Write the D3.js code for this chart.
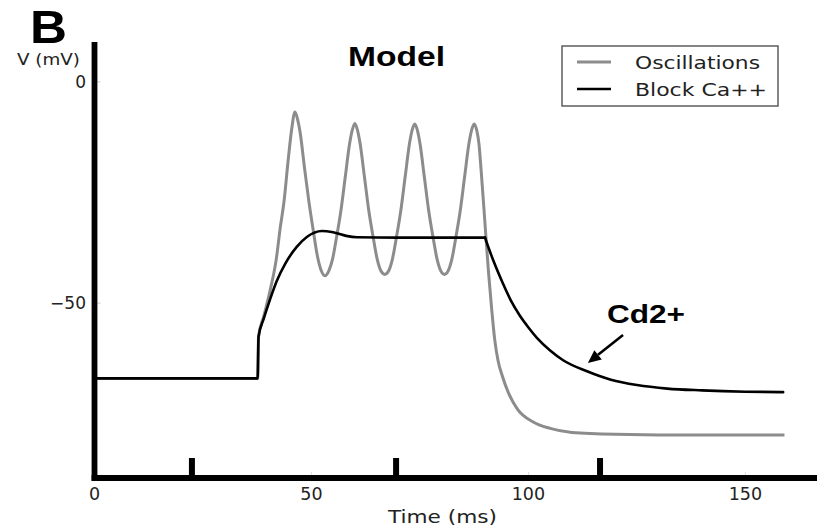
<!DOCTYPE html>
<html>
<head>
<meta charset="utf-8">
<script src="https://cdn.jsdelivr.net/npm/d3@7"></script>
<style>
  html, body { margin: 0; padding: 0; background: #fff; }
  svg { display: block; }
</style>
</head>
<body>
<svg id="chart" width="817" height="526"></svg>
<script>
// ---- data ----
const xTickValues = [0, 50, 100, 150];
const xTickLabels = ["0", "50", "100", "150"];
const yTickValues = [0, -50];
const yTickLabels = ["0", "\u221250"];
const stimulusMarks = [22.45, 69.5, 116.5];

const seriesNames = ["Oscillations", "Block Ca++"];

const oscTime = [0,37.6,37.8,39,40.5,41.9,42.8,43.7,44.6,45.4,46.2,46.8,47.4,48.4,49.4,50.4,51.4,52.2,53.1,
  54.0,54.8,55.8,56.8,57.8,58.8,59.4,60.0,60.6,61.2,62.2,63.2,64.2,65.2,66.0,66.9,
  67.8,68.6,69.6,70.6,71.6,72.6,73.2,73.8,74.4,75.0,76.0,77.0,78.0,79.0,79.8,80.65,
  81.5,82.3,83.3,84.3,85.3,86.3,86.9,87.5,88.1,88.6,89.1,89.7,90.2,90.8,91.5,92.2,93,94,95.5,97.5,101,105,110,120,140,159];
const oscV = [-67,-67,-57.6,-53,-47,-40,-33,-26.8,-18,-11,-6.8,-8.5,-11.5,-19.5,-27,-33.5,-39.5,-42.5,-43.8,
  -42.7,-40.3,-35,-29,-21.4,-13.9,-10.9,-9.4,-10.9,-13.9,-21.4,-29,-35,-40.3,-42.7,-43.5,
  -42.7,-40.3,-35,-29,-21.4,-13.9,-10.9,-9.5,-10.9,-13.9,-21.4,-29,-35,-40.3,-42.7,-43.5,
  -42.7,-40.3,-35,-29,-21.4,-13.9,-10.9,-9.5,-11,-14,-20,-28,-35,-43,-51,-58,-63,-66.5,-70.5,-74,-76.8,-78.3,-79.2,-79.6,-79.8,-79.8];

const blockTime = [0,37.6,37.8,39,40.4,42,44,46.6,49,52.4,55,58,60.5,70,80,90,
  91,92,94.1,96,98,100,102,105,108,113.5,119,125,132,140,150,158.7];
const blockV = [-67,-67,-57.6,-53.5,-49.3,-45,-41,-37.3,-35,-33.7,-34,-34.8,-35.1,-35.2,-35.2,-35.2,
  -38,-40.6,-45.5,-49.5,-52.8,-55.5,-57.9,-60.7,-62.9,-65.4,-67.3,-68.5,-69.3,-69.7,-70,-70.1];
const blockReleaseTime = 90;   // end of the current step (corner in the trace)

// ---- layout ----
const svg = d3.select("#chart");
const x = d3.scaleLinear().domain([0, 166.5]).range([94.5, 817]);
const y = d3.scaleLinear().domain([-89.5, 9]).range([478, 42]);

const grayColor = "#8c8c8c";
const darkColor = "#000";

const line = d3.line().x(d => x(d[0])).y(d => y(d[1])).curve(d3.curveMonotoneX);
const oscData = oscTime.map((t, i) => [t, oscV[i]]);
const blockData = blockTime.map((t, i) => [t, blockV[i]]);

svg.append("path").datum(oscData).attr("d", line)
  .attr("fill", "none").attr("stroke", grayColor).attr("stroke-width", 3);
[blockData.filter(d => d[0] <= blockReleaseTime), blockData.filter(d => d[0] >= blockReleaseTime)]
  .forEach(seg => {
    svg.append("path").datum(seg).attr("d", line)
      .attr("fill", "none").attr("stroke", darkColor).attr("stroke-width", 2.6)
      .attr("stroke-linejoin", "round").attr("stroke-linecap", "round");
  });

// faint ticks
svg.append("g").selectAll("line").data(xTickValues).join("line")
  .attr("x1", d => x(d)).attr("x2", d => x(d))
  .attr("y1", y(-89.5) - 3).attr("y2", y(-89.5) - 6)
  .attr("stroke", "#ddd").attr("stroke-width", 1);
svg.append("g").selectAll("line").data(yTickValues).join("line")
  .attr("x1", x(0) + 3).attr("x2", x(0) + 6)
  .attr("y1", d => y(d)).attr("y2", d => y(d))
  .attr("stroke", "#ccc").attr("stroke-width", 1);

// axes (thick)
svg.append("line").attr("x1", x(0)).attr("x2", x(0))
  .attr("y1", y(9)).attr("y2", y(-89.5) + 2.8)
  .attr("stroke", "#000").attr("stroke-width", 5.8);
svg.append("line").attr("x1", x(0) - 2.9).attr("x2", 817)
  .attr("y1", y(-89.5)).attr("y2", y(-89.5))
  .attr("stroke", "#000").attr("stroke-width", 5.8);

// stimulus marks
svg.append("g").selectAll("line").data(stimulusMarks).join("line")
  .attr("x1", d => x(d)).attr("x2", d => x(d))
  .attr("y1", 458).attr("y2", y(-89.5))
  .attr("stroke", "#000").attr("stroke-width", 6);

// tick labels
const font = "'DejaVu Sans', sans-serif";
svg.append("g").selectAll("text").data(xTickValues).join("text")
  .attr("x", d => x(d)).attr("y", 500)
  .attr("text-anchor", "middle").attr("font-family", font).attr("font-size", 17.5)
  .attr("fill", "#222")
  .text((d, i) => xTickLabels[i]);
svg.append("g").selectAll("text").data(yTickValues).join("text")
  .attr("x", 86).attr("y", d => y(d) + 6)
  .attr("text-anchor", "end").attr("font-family", font).attr("font-size", 17)
  .attr("fill", "#222")
  .text((d, i) => yTickLabels[i]);

// axis titles
svg.append("text").attr("x", 388).attr("y", 523)
  .attr("font-family", font).attr("font-size", 18)
  .attr("textLength", 109).attr("lengthAdjust", "spacingAndGlyphs")
  .attr("fill", "#222").text("Time (ms)");
svg.append("text").attr("x", 17).attr("y", 65)
  .attr("font-family", font).attr("font-size", 16.5)
  .attr("textLength", 63).attr("lengthAdjust", "spacingAndGlyphs")
  .attr("fill", "#222").text("V (mV)");

// bold labels
const bold = "'Liberation Sans', Arial, sans-serif";
svg.append("text").attr("x", 30).attr("y", 43)
  .attr("font-family", bold).attr("font-weight", "bold").attr("font-size", 46)
  .attr("textLength", 37).attr("lengthAdjust", "spacingAndGlyphs")
  .text("B");
svg.append("text").attr("x", 348).attr("y", 66)
  .attr("font-family", bold).attr("font-weight", "bold").attr("font-size", 27)
  .attr("textLength", 97).attr("lengthAdjust", "spacingAndGlyphs")
  .text("Model");
svg.append("text").attr("x", x(118.1)).attr("y", y(-54.5))
  .attr("font-family", bold).attr("font-weight", "bold").attr("font-size", 25)
  .attr("textLength", 78).attr("lengthAdjust", "spacingAndGlyphs")
  .text("Cd2+");

// arrow
const a0 = [x(121.8), y(-57.2)], a1 = [x(113.7), y(-63.5)];
const ang = Math.atan2(a1[1] - a0[1], a1[0] - a0[0]);
const headLen = 13, headW = 6;
const base = [a1[0] - headLen * Math.cos(ang), a1[1] - headLen * Math.sin(ang)];
svg.append("line").attr("x1", a0[0]).attr("y1", a0[1]).attr("x2", base[0]).attr("y2", base[1])
  .attr("stroke", "#000").attr("stroke-width", 2.6);
svg.append("path")
  .attr("d", `M${a1[0]},${a1[1]} L${base[0] + headW * Math.sin(ang)},${base[1] - headW * Math.cos(ang)} L${base[0] - headW * Math.sin(ang)},${base[1] + headW * Math.cos(ang)} Z`)
  .attr("fill", "#000");

// legend
const lg = svg.append("g");
lg.append("rect").attr("x", 562).attr("y", 46).attr("width", 216).attr("height", 60)
  .attr("fill", "#fff").attr("stroke", "#444").attr("stroke-width", 1.3);
const legendColors = [grayColor, darkColor];
const legendY = [62, 89];
const legendW = [125, 132];
seriesNames.forEach((name, i) => {
  lg.append("line").attr("x1", 577).attr("x2", 611).attr("y1", legendY[i]).attr("y2", legendY[i])
    .attr("stroke", legendColors[i]).attr("stroke-width", i === 0 ? 3 : 2.6);
  lg.append("text").attr("x", 635).attr("y", legendY[i] + 6.5)
    .attr("font-family", font).attr("font-size", 18)
    .attr("textLength", legendW[i]).attr("lengthAdjust", "spacingAndGlyphs")
    .attr("fill", "#222").text(name);
});
</script>
</body>
</html>
